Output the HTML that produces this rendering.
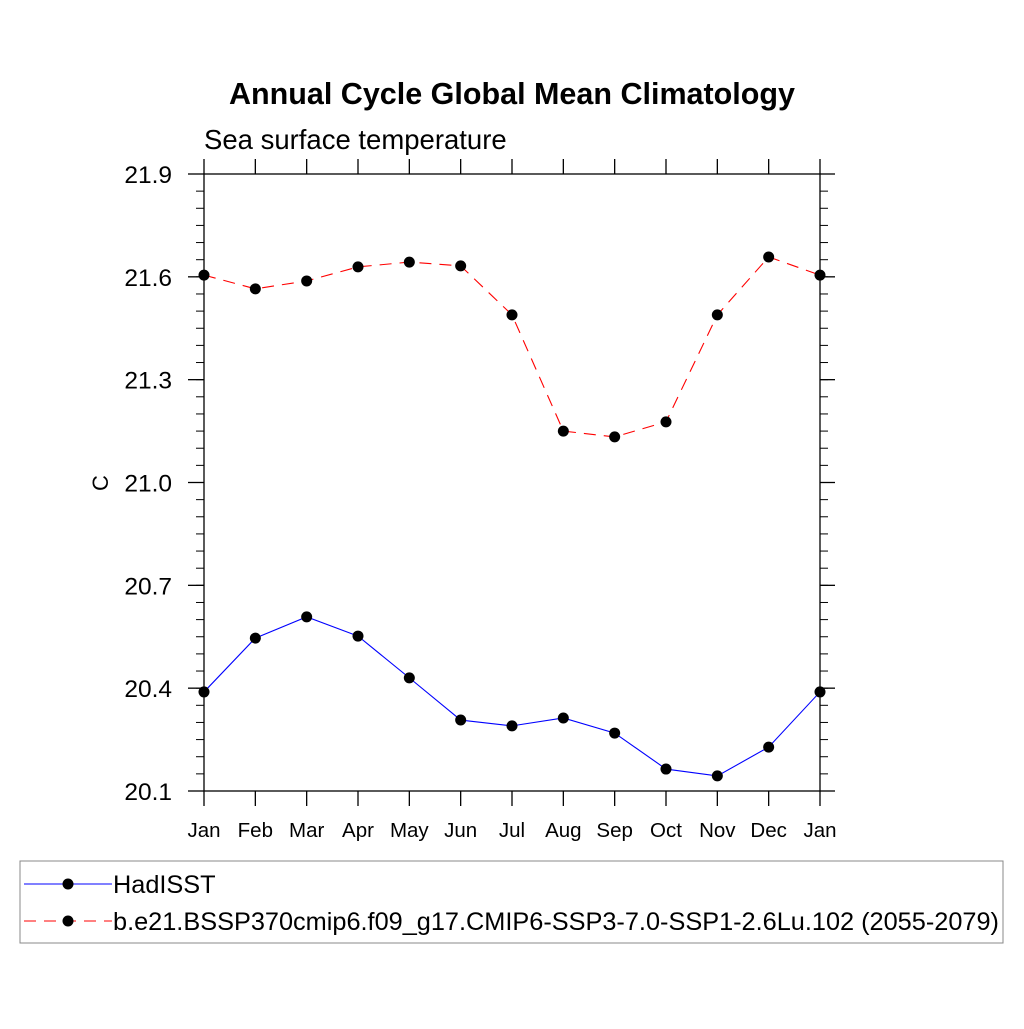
<!DOCTYPE html>
<html><head><meta charset="utf-8"><style>
html,body{margin:0;padding:0;background:#fff;}
svg text{font-family:"Liberation Sans",sans-serif;}
</style></head><body>
<svg id="chart" width="1024" height="1024" xmlns="http://www.w3.org/2000/svg">
<text x="512" y="104" text-anchor="middle" font-size="30.5" font-weight="bold">Annual Cycle Global Mean Climatology</text>
<text x="204" y="149" font-size="27.5">Sea surface temperature</text>
<text transform="translate(108,483) rotate(-90)" text-anchor="middle" font-size="22">C</text>
<g id="axes"></g>
<g id="series"></g>
<rect x="20" y="861" width="983" height="82" fill="none" stroke="#888" stroke-width="1"/>
<g>
<line x1="24" y1="884" x2="112" y2="884" stroke="#0000ff" stroke-width="1"/>
<circle cx="68" cy="884" r="5.5" fill="#000"/>
<text x="113" y="893" font-size="25.3">HadISST</text>
</g>
<g>
<line x1="24" y1="921" x2="112" y2="921" stroke="#ff0000" stroke-width="1" stroke-dasharray="12,8"/>
<circle cx="68" cy="921" r="5.5" fill="#000"/>
<text x="113" y="930" font-size="25.3">b.e21.BSSP370cmip6.f09_g17.CMIP6-SSP3-7.0-SSP1-2.6Lu.102 (2055-2079)</text>
</g>
</svg>
<script>
const months = ["Jan","Feb","Mar","Apr","May","Jun","Jul","Aug","Sep","Oct","Nov","Dec","Jan"];
const yTicks = [20.1,20.4,20.7,21.0,21.3,21.6,21.9];
const yTickLabels = ["20.1","20.4","20.7","21.0","21.3","21.6","21.9"];
const hadisst = [20.389,20.546,20.608,20.552,20.430,20.307,20.290,20.313,20.269,20.164,20.144,20.228,20.389];
const model = [21.605,21.565,21.588,21.629,21.643,21.632,21.489,21.150,21.133,21.177,21.489,21.658,21.605];

const NS="http://www.w3.org/2000/svg";
const L=204,R=820,T=174,B=791,yMin=20.1,yMax=21.9;
const xs=i=>L+(R-L)*i/(months.length-1);
const ys=v=>B-(B-T)*(v-yMin)/(yMax-yMin);
function mk(tag,attrs,parent){const e=document.createElementNS(NS,tag);for(const k in attrs)e.setAttribute(k,attrs[k]);parent.appendChild(e);return e;}
const ax=document.getElementById('axes');
const frame=mk('rect',{x:L,y:T,width:R-L,height:B-T,fill:'none',stroke:'#000','stroke-width':1.3},ax);


months.forEach((m,i)=>{
  const x=xs(i);
  const t1=mk('line',{x1:x,y1:B,x2:x,y2:B+15,stroke:'#000','stroke-width':1.3},ax);
  
  
  const t2=mk('line',{x1:x,y1:T,x2:x,y2:T-15,stroke:'#000','stroke-width':1.3},ax);
  
  
  const tx=mk('text',{x:x,y:837,'text-anchor':'middle','font-size':20.5},ax);
  tx.textContent=m;
  
  
});
for(let v=yMin;v<=yMax+1e-6;v+=0.05){
  const y=ys(v);
  const mn=mk('line',{x1:L-8,y1:y,x2:L,y2:y,stroke:'#000','stroke-width':1},ax);
  
  
  const mn2=mk('line',{x1:R,y1:y,x2:R+8,y2:y,stroke:'#000','stroke-width':1},ax);
  
  
}
yTicks.forEach((v,i)=>{
  const y=ys(v);
  const t1=mk('line',{x1:L-16,y1:y,x2:L,y2:y,stroke:'#000','stroke-width':1.3},ax);
  
  
  const t2=mk('line',{x1:R,y1:y,x2:R+15,y2:y,stroke:'#000','stroke-width':1.3},ax);
  
  
  const tx=mk('text',{x:172,y:y+9,'text-anchor':'end','font-size':24.5},ax);
  tx.textContent=yTickLabels[i];
  
  
});
const sg=document.getElementById('series');
function drawSeries(vals,color,dash,name){
  const pts=vals.map((v,i)=>xs(i)+','+ys(v)).join(' ');
  const pl=mk('polyline',{points:pts,fill:'none',stroke:color,'stroke-width':1.1},sg);
  if(dash)pl.setAttribute('stroke-dasharray',dash);
  
  
  vals.forEach((v,i)=>{
    const c=mk('circle',{cx:xs(i),cy:ys(v),r:5.5,fill:'#000'},sg);
    
    
  });
}
drawSeries(hadisst,'#0000ff',null,'hadisst');
drawSeries(model,'#ff0000','12,8','model');
</script>
</body></html>
